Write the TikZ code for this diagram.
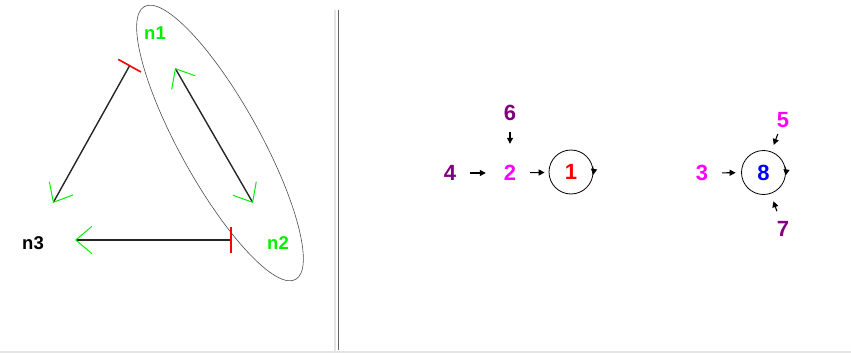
\documentclass[tikz,border=0pt]{standalone}
\usepackage{fontspec}
\setmainfont{Liberation Sans}
\usetikzlibrary{arrows.meta}
\definecolor{netgreen}{HTML}{00F000}
\definecolor{netpurple}{HTML}{800080}
\definecolor{netmagenta}{HTML}{FF00FF}

\tikzset{
  netlabel/.style={font=\fontsize{18.5}{20}\selectfont\bfseries,inner sep=1pt},
  numlabel/.style={font=\fontsize{22}{24}\selectfont\bfseries,inner sep=0pt,minimum size=20pt},
  ring/.style={circle,draw,line width=.8pt,minimum size=44pt,inner sep=0pt,font=\fontsize{22}{24}\selectfont\bfseries},
  link/.style={line width=1.4pt,black!85},
  barbtip/.tip={Straight Barb[netgreen,length=16pt,width=27pt,line width=1pt]},
  teetip/.tip={Bar[red,width=26pt,line width=1.6pt]},
  smallarr/.style={-{Triangle[length=6pt,width=6pt]},line width=1.1pt},
  looptip/.style={-{Triangle[length=6pt,width=6pt]},line width=.8pt}
}

\begin{document}
\begin{tikzpicture}[x=1pt,y=1pt]
\useasboundingbox (0,0) rectangle (851,354);
% panel borders
\draw[black!10,line width=2pt] (0,2) -- (851,2);
\draw[black!10,line width=2pt] (335,344) -- (335,2);
\draw[black!60,line width=1.5pt] (338.5,344) -- (338.5,4);

% left panel: n1, n2, n3
\node[netlabel,text=netgreen] (n1) at (155,321) {n1};
\node[netlabel,text=netgreen] (n2) at (278,111) {n2};
\node[netlabel] (n3) at (33,111) {n3};
\draw[black!70,line width=.6pt,rotate around={-61:(220,211)}] (220,211) ellipse [x radius=156pt,y radius=40pt];

\coordinate (n1in) at (175,286);
\coordinate (n2in) at (253,151);
\coordinate (n1out) at (130,289);
\coordinate (n3up) at (53,151);
\coordinate (n2out) at (232,114);
\coordinate (n3in) at (75,114);
\draw[link,barbtip-barbtip] (n1in) -- (n2in);
\draw[link,teetip-barbtip] (n1out) -- (n3up);
\draw[link,teetip-barbtip] (n2out) -- (n3in);

% right panel: first group
\node[numlabel,text=netpurple] (r4) at (450,181) {4};
\node[numlabel,text=netmagenta] (r2) at (510,181) {2};
\node[numlabel,text=netpurple] (r6) at (510,241) {6};
\node[ring,text=red] (r1) at (571,182) {1};
\draw[smallarr,shorten <=10pt,shorten >=14pt] (r4) -- (r2);
\draw[smallarr,shorten <=10pt,shorten >=4pt] (r2) -- (r1);
\draw[smallarr,shorten <=9pt,shorten >=19pt] (r6) -- (r2);
\draw[looptip] (r1.15) arc[start angle=15,end angle=-8,radius=22pt];

% right panel: second group
\node[numlabel,text=netmagenta] (r3) at (702,181) {3};
\node[ring,text=blue] (r8) at (763.5,181.5) {8};
\node[numlabel,text=netmagenta] (r5) at (783,234) {5};
\node[numlabel,text=netpurple] (r7) at (783,125) {7};
\draw[smallarr,shorten <=10pt,shorten >=5.5pt] (r3) -- (r8);
\draw[smallarr,shorten <=4pt,shorten >=7pt] (r5) -- (r8);
\draw[smallarr,shorten <=8pt,shorten >=8pt] (r7) -- (r8);
\draw[looptip] (r8.15) arc[start angle=15,end angle=-8,radius=22pt];
\end{tikzpicture}
\end{document}
